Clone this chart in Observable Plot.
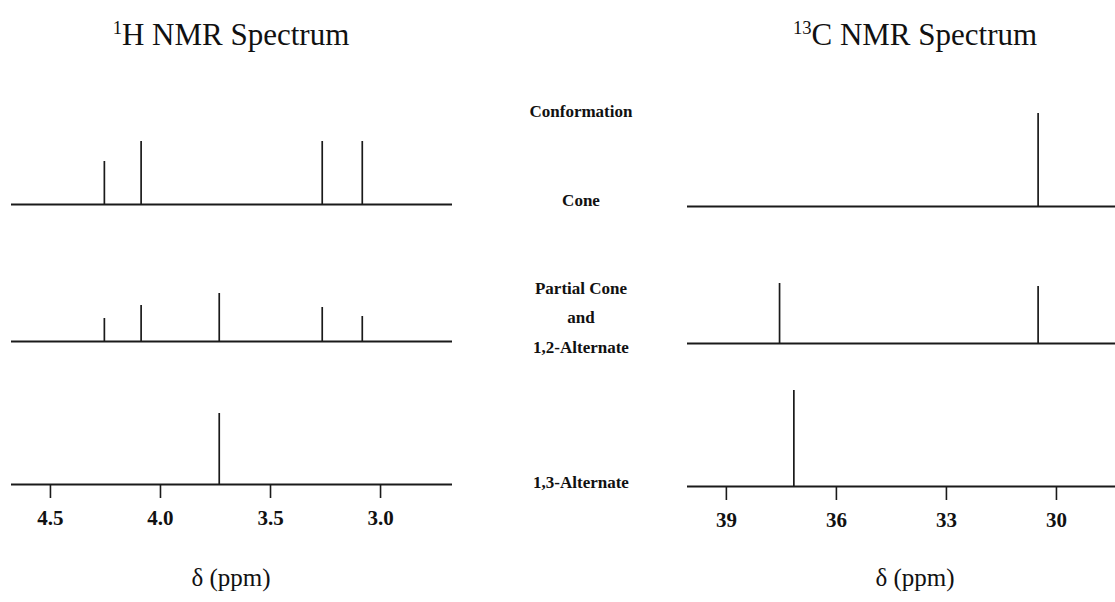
<!DOCTYPE html>
<html>
<head>
<meta charset="utf-8">
<script src="https://cdn.jsdelivr.net/npm/d3@7"></script>
<script src="https://cdn.jsdelivr.net/npm/@observablehq/plot@0.6"></script>
<style>
  body { margin: 0; background: #fff; }
  #root { position: relative; width: 1115px; height: 602px; overflow: hidden; font-family: "Liberation Serif", "Times New Roman", serif; color: #111; }
  .lbl { position: absolute; transform: translate(-50%, -50%); white-space: nowrap; text-align: center; }
  .title { font-size: 31px; }
  .title sup { font-size: 0.6em; vertical-align: 0.6em; line-height: 0; }
  .conf { font-weight: bold; font-size: 17px; }
  .xl { font-size: 25px; }
  .panel { position: absolute; }
</style>
</head>
<body>
<div id="root"></div>
<script>
// ---------- data ----------
const conformations = ["Cone", "Partial Cone and 1,2-Alternate", "1,3-Alternate"];

// 1H NMR: chemical shift (ppm) and relative peak height
const hConePpm = [4.255, 4.088, 3.265, 3.083];
const hConeH   = [43, 63, 63, 63];
const hPartialPpm = [4.255, 4.088, 3.733, 3.265, 3.083];
const hPartialH   = [23, 36, 48, 34, 25];
const hAltPpm = [3.733];
const hAltH   = [71];

// 13C NMR
const cConePpm = [30.5];
const cConeH   = [93];
const cPartialPpm = [37.55, 30.5];
const cPartialH   = [60, 57];
const cAltPpm = [37.16];
const cAltH   = [96];

const hTicks = [4.5, 4.0, 3.5, 3.0];
const cTicks = [39, 36, 33, 30];
const hDomain = [4.677, 2.673];
const cDomain = [40.06, 28.39];

// ---------- helpers ----------
const root = document.getElementById("root");
function toRows(ppm, h) { return ppm.map((p, i) => ({ppm: p, h: h[i]})); }

function addLabel(html, x, y, cls) {
  const d = document.createElement("div");
  d.className = "lbl " + cls;
  d.style.left = x + "px";
  d.style.top = y + "px";
  d.innerHTML = html;
  root.appendChild(d);
}

function row(data, opts) {
  const bottom = opts.ticks != null;
  const svg = Plot.plot({
    width: opts.width,
    height: bottom ? 146 : 102,
    marginLeft: 0, marginRight: 0, marginTop: 0,
    marginBottom: bottom ? 46 : 2,
    x: {domain: opts.domain, axis: null, label: null},
    y: {domain: [0, 100], axis: null},
    style: {background: "transparent", overflow: "visible", fontFamily: "'Liberation Serif', serif"},
    marks: [
      Plot.ruleY([0], {stroke: "#1a1a1a", strokeWidth: 2}),
      Plot.ruleX(data, {x: "ppm", y1: 0, y2: "h", stroke: "#1a1a1a", strokeWidth: 1.7}),
      bottom ? Plot.axisX({
        ticks: opts.ticks, tickFormat: opts.fmt, tickSize: 14, tickPadding: 12, label: null,
        stroke: "#1a1a1a", strokeWidth: 1.6, fill: "#111",
        fontSize: 21, fontWeight: "bold", fontFamily: "'Liberation Serif', serif"
      }) : null
    ]
  });
  const wrap = document.createElement("div");
  wrap.className = "panel";
  wrap.style.left = opts.left + "px";
  wrap.style.top = (opts.baseline - 100) + "px";
  wrap.appendChild(svg);
  root.appendChild(wrap);
}

// ---------- titles ----------
addLabel("<sup>1</sup>H NMR Spectrum", 231, 35, "title");
addLabel("<sup>13</sup>C NMR Spectrum", 915, 35, "title");

// ---------- 1H panel ----------
const hFmt = d => d.toFixed(1);
row(toRows(hConePpm, hConeH),       {left: 11, width: 441, domain: hDomain, baseline: 204});
row(toRows(hPartialPpm, hPartialH), {left: 11, width: 441, domain: hDomain, baseline: 341});
row(toRows(hAltPpm, hAltH),         {left: 11, width: 441, domain: hDomain, baseline: 484, ticks: hTicks, fmt: hFmt});

// ---------- 13C panel ----------
const cFmt = d => String(d);
row(toRows(cConePpm, cConeH),       {left: 687, width: 428, domain: cDomain, baseline: 206});
row(toRows(cPartialPpm, cPartialH), {left: 687, width: 428, domain: cDomain, baseline: 343});
row(toRows(cAltPpm, cAltH),         {left: 687, width: 428, domain: cDomain, baseline: 486, ticks: cTicks, fmt: cFmt});

// ---------- conformation labels ----------
addLabel("Conformation", 581, 112, "conf");
addLabel(conformations[0], 581, 201, "conf");
addLabel("Partial Cone", 581, 289, "conf");
addLabel("and", 581, 318, "conf");
addLabel("1,2-Alternate", 581, 348, "conf");
addLabel(conformations[2], 581, 483, "conf");

// ---------- x labels ----------
addLabel("δ (ppm)", 231, 578, "xl");
addLabel("δ (ppm)", 915, 578, "xl");
</script>
</body>
</html>
